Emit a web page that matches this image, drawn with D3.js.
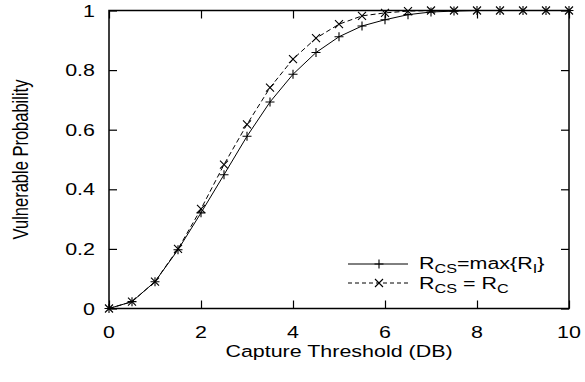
<!DOCTYPE html>
<html>
<head>
<meta charset="utf-8">
<script src="https://cdn.jsdelivr.net/npm/d3@7"></script>
<style>
  body { margin: 0; background: #fff; }
  text { font-family: "Liberation Sans", Arial, sans-serif; fill: #000; }
</style>
</head>
<body>
<svg id="chart" width="585" height="382"></svg>
<script>
// data
var thresholds = [0, 0.5, 1, 1.5, 2, 2.5, 3, 3.5, 4, 4.5, 5,
                  5.5, 6, 6.5, 7, 7.5, 8, 8.5, 9, 9.5, 10];
var maxRi  = [0, 0.023, 0.09, 0.197, 0.321, 0.449, 0.578, 0.693, 0.786, 0.859, 0.912,
              0.948, 0.969, 0.986, 0.995, 0.998, 1, 1, 1, 1, 1];
var equalRc = [0, 0.023, 0.09, 0.2, 0.334, 0.483, 0.618, 0.741, 0.837, 0.907, 0.954,
               0.982, 0.992, 0.998, 1, 1, 1, 1, 1, 1, 1];
var xTicks = [0, 2, 4, 6, 8, 10];
var yTicks = [0, 0.2, 0.4, 0.6, 0.8, 1];
var yTickLabels = ["0", "0.2", "0.4", "0.6", "0.8", "1"];

var svg = d3.select('#chart'),
    pl = 109, pr = 569, pt = 10.5, pb = 308.5,
    fs = 16.5, sx = 1.3,   /* the font looks stretched sideways */
    tick = 8;

var x = d3.scaleLinear().domain([0, 10]).range([pl, pr]);
var y = d3.scaleLinear().domain([0, 1]).range([pb, pt]);

// ticks on all four sides, pointing in
svg.append('g').attr('transform', 'translate(0,' + pb + ')')
  .call(d3.axisBottom(x).tickValues(xTicks).tickSize(-tick).tickFormat(''));
svg.append('g').attr('transform', 'translate(0,' + pt + ')')
  .call(d3.axisTop(x).tickValues(xTicks).tickSize(-tick).tickFormat(''));
svg.append('g').attr('transform', 'translate(' + pl + ',0)')
  .call(d3.axisLeft(y).tickValues(yTicks).tickSize(-tick).tickFormat(''));
svg.append('g').attr('transform', 'translate(' + pr + ',0)')
  .call(d3.axisRight(y).tickValues(yTicks).tickSize(-tick).tickFormat(''));
svg.selectAll('.domain').remove();
svg.selectAll('.tick line').attr('stroke', '#000').attr('stroke-width', 1.2);

svg.append('rect')
  .attr('x', pl).attr('y', pt)
  .attr('width', pr - pl).attr('height', pb - pt)
  .attr('fill', 'none').attr('stroke', '#000').attr('stroke-width', 1.5);

// tick labels
svg.selectAll('.xlab').data(xTicks).enter().append('text')
  .attr('transform', function (d) { return 'translate(' + x(d) + ',' + (pb + 29) + ') scale(' + sx + ',1)'; })
  .attr('text-anchor', 'middle').style('font-size', fs + 'px')
  .text(function (d) { return d; });

svg.selectAll('.ylab').data(yTicks).enter().append('text')
  .attr('transform', function (d) { return 'translate(' + (pl - 14) + ',' + (y(d) + 6) + ') scale(' + sx + ',1)'; })
  .attr('text-anchor', 'end').style('font-size', fs + 'px')
  .text(function (d, i) { return yTickLabels[i]; });

// axis titles
svg.append('text')
  .attr('transform', 'translate(' + ((pl + pr) / 2) + ',357) scale(' + sx + ',1)')
  .attr('text-anchor', 'middle').style('font-size', fs + 'px')
  .text('Capture Threshold (DB)');

svg.append('text')
  .attr('transform', 'translate(28,' + ((pt + pb) / 2) + ') scale(' + sx + ',1) rotate(-90)')
  .attr('text-anchor', 'middle').style('font-size', fs + 'px')
  .text('Vulnerable Probability');

// series
var series = [
  { values: maxRi, dash: null, mark: 'plus' },
  { values: equalRc, dash: '5,3', mark: 'cross' }
];

var line = d3.line()
  .x(function (d) { return x(d[0]); })
  .y(function (d) { return y(d[1]); });

function marker(g, kind, cx, cy) {
  var r = 4.5;
  if (kind === 'plus') {
    g.append('path').attr('d', 'M' + (cx - r) + ',' + cy + 'H' + (cx + r) + 'M' + cx + ',' + (cy - r) + 'V' + (cy + r));
  } else {
    r = 4;
    g.append('path').attr('d', 'M' + (cx - r) + ',' + (cy - r) + 'L' + (cx + r) + ',' + (cy + r) +
                               'M' + (cx - r) + ',' + (cy + r) + 'L' + (cx + r) + ',' + (cy - r));
  }
}

series.forEach(function (s) {
  var pts = thresholds.map(function (t, i) { return [t, s.values[i]]; });
  svg.append('path').datum(pts)
    .attr('d', line)
    .attr('fill', 'none').attr('stroke', '#000').attr('stroke-width', 1)
    .attr('stroke-dasharray', s.dash);
  var g = svg.append('g').attr('stroke', '#000').attr('stroke-width', 1.1).attr('fill', 'none');
  pts.forEach(function (p) { marker(g, s.mark, x(p[0]), y(p[1])); });
});

// legend
var legendRows = [264, 283];
series.forEach(function (s, i) {
  var ly = legendRows[i];
  svg.append('line')
    .attr('x1', 348).attr('x2', 408).attr('y1', ly).attr('y2', ly)
    .attr('stroke', '#000').attr('stroke-width', 1)
    .attr('stroke-dasharray', s.dash ? '4,3' : null);
  var g = svg.append('g').attr('stroke', '#000').attr('stroke-width', 1.1).attr('fill', 'none');
  marker(g, s.mark, 379, ly);
});

function legendText(ly, parts) {
  var t = svg.append('text')
    .attr('transform', 'translate(419,' + ly + ') scale(' + sx + ',1)')
    .style('font-size', fs + 'px');
  parts.forEach(function (p) {
    t.append('tspan')
      .attr('dy', p[1])
      .style('font-size', p[2] ? fs + 'px' : '12.5px')
      .text(p[0]);
  });
}
// [text, dy, full size?]
legendText(268.5, [['R', 0, true], ['CS', 4, false], ['=max{R', -4, true], ['I', 4, false], ['}', -4, true]]);
legendText(288.5, [['R', 0, true], ['CS', 4, false], [' = R', -4, true], ['C', 4, false]]);
</script>
</body>
</html>
